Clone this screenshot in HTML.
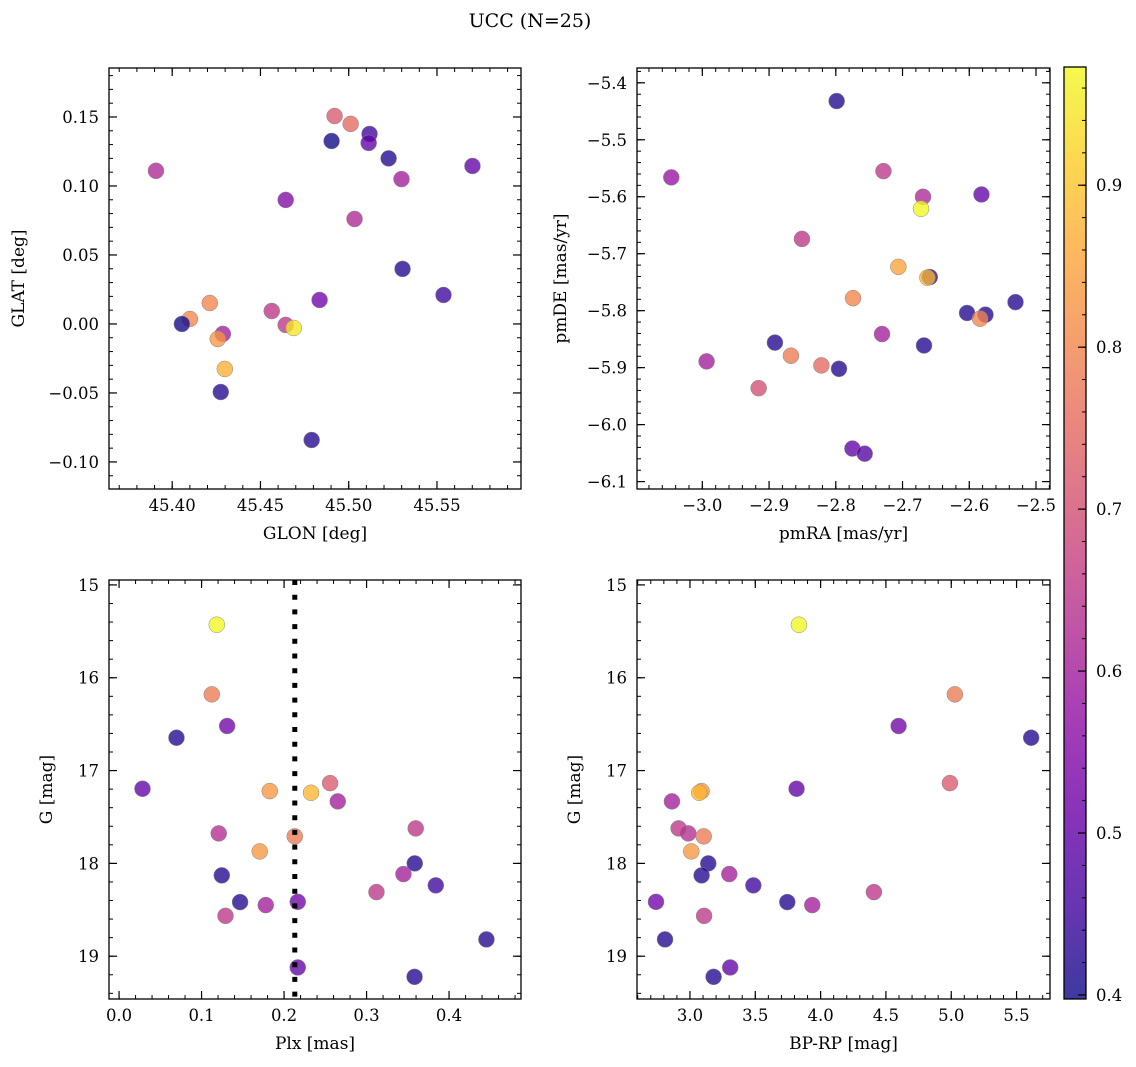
<!DOCTYPE html>
<html><head><meta charset="utf-8">
<style>
html,body{margin:0;padding:0;background:#fff;}
svg{display:block;font-family:"DejaVu Serif","Liberation Serif",serif;}
</style></head>
<body>
<svg id="fig" width="1136" height="1067" viewBox="0 0 1136 1067" xmlns="http://www.w3.org/2000/svg">
<defs>
<linearGradient id="plasma" x1="0" y1="1" x2="0" y2="0">
<stop offset="0" stop-color="#0d0887"/><stop offset="0.1" stop-color="#41049d"/><stop offset="0.2" stop-color="#6a00a8"/><stop offset="0.3" stop-color="#8f0da4"/><stop offset="0.4" stop-color="#b12a90"/><stop offset="0.5" stop-color="#cc4778"/><stop offset="0.6" stop-color="#e16462"/><stop offset="0.7" stop-color="#f2844b"/><stop offset="0.8" stop-color="#fca636"/><stop offset="0.9" stop-color="#fcce25"/><stop offset="1" stop-color="#f0f921"/>
</linearGradient>
</defs>
<text x="530" y="27" font-size="19" text-anchor="middle">UCC (N=25)</text>
</svg>
<script>
// ---- data ----
const glon = [45.3908,45.4920,45.5011,45.5118,45.4903,45.5113,45.5226,45.5701,45.5299,45.4643,45.5033,45.5305,45.5537,45.4835,45.4213,45.4564,45.4100,45.4055,45.4643,45.4688,45.4287,45.4258,45.4298,45.4275,45.4790];
const glat = [0.111,0.1507,0.145,0.1377,0.1326,0.1312,0.120,0.1145,0.105,0.0899,0.0761,0.0399,0.021,0.0174,0.0152,0.0094,0.0036,0.0,-0.0007,-0.0029,-0.0072,-0.0109,-0.0326,-0.0493,-0.0841];
const prob1 = [0.62,0.72,0.75,0.45,0.40,0.50,0.42,0.50,0.60,0.55,0.62,0.42,0.45,0.52,0.80,0.65,0.80,0.40,0.65,0.95,0.60,0.83,0.87,0.42,0.42];
const pmra = [-2.7987,-3.0465,-2.7286,-2.6693,-2.5817,-2.6723,-2.8507,-2.7062,-2.6592,-2.6627,-2.7742,-2.5307,-2.6033,-2.5757,-2.5838,-2.7307,-2.6678,-2.8912,-2.9936,-2.8672,-2.8216,-2.7952,-2.9156,-2.7751,-2.7567];
const pmde = [-5.432,-5.566,-5.555,-5.600,-5.596,-5.621,-5.674,-5.723,-5.741,-5.742,-5.778,-5.785,-5.804,-5.807,-5.814,-5.841,-5.861,-5.856,-5.889,-5.879,-5.896,-5.902,-5.936,-6.042,-6.051];
const prob2 = [0.42,0.58,0.65,0.62,0.50,0.97,0.65,0.85,0.42,0.88,0.80,0.42,0.42,0.42,0.80,0.60,0.42,0.42,0.60,0.78,0.75,0.42,0.70,0.50,0.48];
const plx = [0.1184,0.1124,0.1310,0.0696,0.0284,0.1827,0.2327,0.2558,0.2651,0.1208,0.2130,0.1705,0.3596,0.3584,0.1245,0.3447,0.3839,0.3120,0.1467,0.1778,0.2166,0.1290,0.4453,0.2166,0.3582];
const bprp = [3.834,5.028,4.597,5.612,3.816,3.089,3.071,4.990,2.862,2.987,3.105,3.010,2.913,3.140,3.089,3.301,3.485,4.408,3.745,3.936,2.740,3.108,2.809,3.308,3.181];
const gmag = [15.429,16.179,16.52,16.646,17.196,17.221,17.239,17.135,17.332,17.677,17.709,17.871,17.623,18.0,18.129,18.115,18.237,18.309,18.417,18.449,18.414,18.565,18.819,19.121,19.222];
const prob3 = [0.97,0.78,0.52,0.42,0.50,0.83,0.88,0.72,0.60,0.63,0.78,0.83,0.65,0.42,0.42,0.60,0.45,0.65,0.42,0.60,0.52,0.65,0.42,0.50,0.42];
const plxLine = 0.213;
const xt1=[45.40,45.45,45.50,45.55], yt1=[-0.10,-0.05,0.00,0.05,0.10,0.15];
const xt2=[-3.0,-2.9,-2.8,-2.7,-2.6,-2.5], yt2=[-6.1,-6.0,-5.9,-5.8,-5.7,-5.6,-5.5,-5.4];
const xt3=[0.0,0.1,0.2,0.3,0.4], yt3=[15,16,17,18,19];
const xt4=[3.0,3.5,4.0,4.5,5.0,5.5];
const cbt=[0.4,0.5,0.6,0.7,0.8,0.9];
const CMIN=0.3975, CMAX=0.973;

const NS="http://www.w3.org/2000/svg";
const svg=document.getElementById('fig');
const stops=["#0d0887","#41049d","#6a00a8","#8f0da4","#b12a90","#cc4778","#e16462","#f2844b","#fca636","#fcce25","#f0f921"];
function hex(h){return [1,3,5].map(i=>parseInt(h.substr(i,2),16));}
function cmap(v){let t=(v-CMIN)/(CMAX-CMIN);t=Math.max(0,Math.min(1,t))*10;const i=Math.min(9,Math.floor(t)),f=t-i;const a=hex(stops[i]),b=hex(stops[i+1]);return 'rgb('+a.map((c,k)=>Math.round(c+(b[k]-c)*f)).join(',')+')';}
function el(tag,attrs,parent){const e=document.createElementNS(NS,tag);for(const k in attrs)e.setAttribute(k,attrs[k]);(parent||svg).appendChild(e);return e;}
function fmt(v,d){const s=Math.abs(v).toFixed(d);return (v<-1e-9?'\u2212':'')+s;}

function panel(o){
  const g=el('g',{});
  
  
  const L=o.L,R=o.R,T=o.T,B=o.B;
  const sx=v=>L+(v-o.x0)/(o.x1-o.x0)*(R-L);
  const sy=o.inv? v=>T+(v-o.y0)/(o.y1-o.y0)*(B-T) : v=>B-(v-o.y0)/(o.y1-o.y0)*(B-T);
  const minor=(lo,hi,step,fn)=>{const s=Math.ceil(lo/step-1e-6);for(let k=s;k*step<=hi+1e-9;k++)fn(k*step);};
  minor(o.x0,o.x1,o.xm,v=>{const x=sx(v);el('line',{x1:x,x2:x,y1:B,y2:B-4,stroke:'#000','stroke-width':1},g);el('line',{x1:x,x2:x,y1:T,y2:T+4,stroke:'#000','stroke-width':1},g);});
  minor(o.y0,o.y1,o.ym,v=>{const y=sy(v);el('line',{x1:L,x2:L+4,y1:y,y2:y,stroke:'#000','stroke-width':1},g);el('line',{x1:R,x2:R-4,y1:y,y2:y,stroke:'#000','stroke-width':1},g);});
  o.xt.forEach(v=>{const x=sx(v);el('line',{x1:x,x2:x,y1:B,y2:B-8,stroke:'#000','stroke-width':1.2},g);el('line',{x1:x,x2:x,y1:T,y2:T+8,stroke:'#000','stroke-width':1.2},g);
    const t=el('text',{x:x,y:B+22,'font-size':16.5,'text-anchor':'middle'},g);t.textContent=fmt(v,o.xd);
    
    });
  o.yt.forEach(v=>{const y=sy(v);el('line',{x1:L,x2:L+8,y1:y,y2:y,stroke:'#000','stroke-width':1.2},g);el('line',{x1:R,x2:R-8,y1:y,y2:y,stroke:'#000','stroke-width':1.2},g);
    const t=el('text',{x:L-10,y:y+6,'font-size':16.5,'text-anchor':'end'},g);t.textContent=fmt(v,o.yd);
    
    });
  o.xs.forEach((v,i)=>{const c=el('circle',{cx:sx(v),cy:sy(o.ys[i]),r:8,fill:cmap(o.cs[i]),'fill-opacity':0.78,stroke:'#888','stroke-width':0.5},g);
    
    });
  if(o.vline!==undefined){const x=sx(o.vline);const ln=el('line',{x1:x,x2:x,y1:T,y2:B,stroke:'#000','stroke-width':5,'stroke-dasharray':'5 9.7'},g);
    
    }
  const fr=el('rect',{x:L,y:T,width:R-L,height:B-T,fill:'none',stroke:'#000','stroke-width':1.3},g);
  
  
  const xl=el('text',{x:(L+R)/2,y:B+50,'font-size':17,'text-anchor':'middle'},g);xl.textContent=o.xlab;
  
  
  const yx=o.ylx,yc=(T+B)/2;
  const yl=el('text',{x:yx,y:yc,'font-size':17,'text-anchor':'middle',transform:'rotate(-90 '+yx+' '+yc+')'},g);yl.textContent=o.ylab;
  
  
}
panel({name:'glon-glat-panel',L:109,R:521,T:68,B:489,x0:45.3642,x1:45.5976,y0:-0.1196,y1:0.1855,xt:xt1,yt:yt1,xm:0.01,ym:0.01,xd:2,yd:2,xs:glon,ys:glat,cs:prob1,xlab:'GLON [deg]',ylab:'GLAT [deg]',ylx:24});
panel({name:'pm-panel',L:637,R:1050,T:68,B:489,x0:-3.0979,x1:-2.479,y0:-6.113,y1:-5.374,xt:xt2,yt:yt2,xm:0.02,ym:0.02,xd:1,yd:1,xs:pmra,ys:pmde,cs:prob2,xlab:'pmRA [mas/yr]',ylab:'pmDE [mas/yr]',ylx:566});
panel({name:'plx-g-panel',L:109,R:521,T:580,B:999,x0:-0.0122,x1:0.4872,y0:14.947,y1:19.461,inv:true,xt:xt3,yt:yt3,xm:0.02,ym:0.2,xd:1,yd:0,xs:plx,ys:gmag,cs:prob3,vline:plxLine,xlab:'Plx [mas]',ylab:'G [mag]',ylx:52});
panel({name:'bprp-g-panel',L:637,R:1050,T:580,B:999,x0:2.5945,x1:5.756,y0:14.947,y1:19.461,inv:true,xt:xt4,yt:yt3,xm:0.1,ym:0.2,xd:1,yd:0,xs:bprp,ys:gmag,cs:prob3,xlab:'BP-RP [mag]',ylab:'G [mag]',ylx:580});

// colorbar
const cb=el('g',{});


const CT=67,CB=999,CL=1064,CR=1086;
el('rect',{x:CL,y:CT,width:CR-CL,height:CB-CT,fill:'url(#plasma)','fill-opacity':0.8},cb);
const cy=v=>CB-(v-CMIN)/(CMAX-CMIN)*(CB-CT);
for(let v=0.40;v<=CMAX;v+=0.02){const y=cy(v);el('line',{x1:CR,x2:CR-4,y1:y,y2:y,stroke:'#000','stroke-width':1},cb);}
cbt.forEach(v=>{const y=cy(v);el('line',{x1:CR,x2:CR-8,y1:y,y2:y,stroke:'#000','stroke-width':1.2},cb);
  const t=el('text',{x:CR+10,y:y+6,'font-size':16.5},cb);t.textContent=v.toFixed(1);
  
  });
el('rect',{x:CL,y:CT,width:CR-CL,height:CB-CT,fill:'none',stroke:'#000','stroke-width':1.3},cb);
</script>
</body></html>
